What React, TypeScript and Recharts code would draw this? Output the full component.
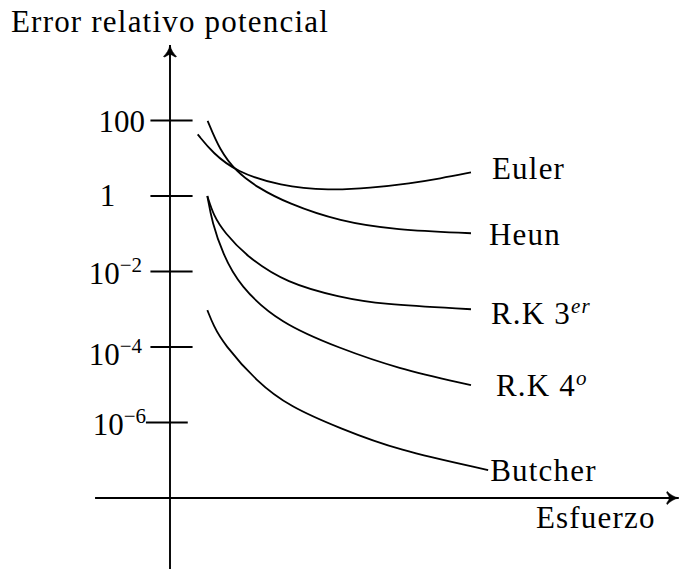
import React from 'react';
import { LineChart, Line, XAxis, YAxis, ReferenceLine, ReferenceDot } from 'recharts';

type Pt = { esfuerzo: number; error: number };

// Error curves for each method (effort in arbitrary units, error on a log scale)
const euler: Pt[] = [
  { esfuerzo: 0.92, error: 43 },
  { esfuerzo: 1.42, error: 13.8 },
  { esfuerzo: 2.2, error: 4.4 },
  { esfuerzo: 3.65, error: 1.84 },
  { esfuerzo: 5.3, error: 1.4 },
  { esfuerzo: 6.65, error: 1.63 },
  { esfuerzo: 8.0, error: 2.17 },
  { esfuerzo: 8.97, error: 2.9 },
  { esfuerzo: 10.0, error: 4.2 },
];

const heun: Pt[] = [
  { esfuerzo: 1.25, error: 98 },
  { esfuerzo: 1.65, error: 16.5 },
  { esfuerzo: 2.2, error: 4.4 },
  { esfuerzo: 2.9, error: 1.7 },
  { esfuerzo: 3.9, error: 0.64 },
  { esfuerzo: 5.65, error: 0.21 },
  { esfuerzo: 7.5, error: 0.126 },
  { esfuerzo: 10.0, error: 0.103 },
];

const rk3: Pt[] = [
  { esfuerzo: 1.24, error: 1 },
  { esfuerzo: 1.45, error: 0.3 },
  { esfuerzo: 1.8, error: 0.11 },
  { esfuerzo: 2.55, error: 0.0247 },
  { esfuerzo: 3.88, error: 0.00487 },
  { esfuerzo: 5.65, error: 0.00207 },
  { esfuerzo: 6.98, error: 0.00135 },
  { esfuerzo: 10.0, error: 0.001 },
];

const rk4: Pt[] = [
  { esfuerzo: 1.24, error: 1 },
  { esfuerzo: 1.4, error: 0.2 },
  { esfuerzo: 1.75, error: 0.03 },
  { esfuerzo: 2.3, error: 0.0042 },
  { esfuerzo: 3.65, error: 4.25e-4 },
  { esfuerzo: 5.65, error: 9.2e-5 },
  { esfuerzo: 7.53, error: 2.73e-5 },
  { esfuerzo: 10.0, error: 9.8e-6 },
];

const butcher: Pt[] = [
  { esfuerzo: 1.24, error: 9.5e-4 },
  { esfuerzo: 1.45, error: 3.6e-4 },
  { esfuerzo: 1.77, error: 1.25e-4 },
  { esfuerzo: 2.88, error: 1.2e-5 },
  { esfuerzo: 3.99, error: 2.6e-6 },
  { esfuerzo: 5.65, error: 7.0e-7 },
  { esfuerzo: 7.53, error: 1.87e-7 },
  { esfuerzo: 10.57, error: 5.5e-8 },
];

const seriesData = [euler, heun, rk3, rk4, butcher];
const seriesNames = ['Euler', 'Heun', 'R.K 3', 'R.K 4', 'Butcher'];
const seriesSuperscripts = ['', '', 'er', 'o', ''];

const yTickValues = [100, 1, 1e-2, 1e-4, 1e-6];
const yTickBases = ['100', '1', '10', '10', '10'];
const yTickExponents = ['', '', '−2', '−4', '−6'];

const yAxisTitle = 'Error relativo potencial';
const xAxisTitle = 'Esfuerzo';

// Axis geometry in data units
const X_DOMAIN: [number, number] = [-5.648, 16.944];
const Y_DOMAIN: [number, number] = [Math.pow(10, -9.881), Math.pow(10, 5.192)];
const X_AXIS_LEVEL = 1e-8;
const X_AXIS_START = -2.49;
const X_AXIS_END = 16.9;
const Y_AXIS_TOP = 1e4;

const W = 680;
const H = 569;

const font = "'Liberation Serif', 'DejaVu Serif', serif";
const textStyle: React.CSSProperties = { fontFamily: font, fontSize: 31, fill: '#000' };
const wordSpacing = 1.2;

// Per-label pixel offsets and tick extents
const seriesLabelOffsets = [
  { dx: 21, dy: 6.7 },
  { dx: 18, dy: 11.7 },
  { dx: 20, dy: 15 },
  { dx: 25, dy: 11 },
  { dx: 2, dy: 11 },
];
const tickLabelStyle = [
  { dx: -25, dy: 11.7, anchor: 'end' },
  { dx: -62.5, dy: 9.7, anchor: 'middle' },
  { dx: -28, dy: 12.3, anchor: 'end' },
  { dx: -28, dy: 18.3, anchor: 'end' },
  { dx: -24, dy: 12.3, anchor: 'end' },
];
const tickExtents = [
  [-0.65, 0.75],
  [-0.65, 0.75],
  [-0.65, 0.75],
  [-0.65, 0.75],
  [-0.8, 0.59],
];

const arrowUp = (x: number, y: number) =>
  `M ${x} ${y} C ${x - 1} ${y + 5} ${x - 3.5} ${y + 8.5} ${x - 6.5} ${y + 11.5} L ${x - 5.2} ${y + 12} ` +
  `Q ${x - 1.2} ${y + 9} ${x} ${y + 9.5} Q ${x + 1.2} ${y + 9} ${x + 5.2} ${y + 12} ` +
  `L ${x + 6.5} ${y + 11.5} C ${x + 3.5} ${y + 8.5} ${x + 1} ${y + 5} ${x} ${y} Z`;

export default function App() {
  return (
    <div style={{ position: 'absolute', left: 0, top: 0, width: W, height: H, background: '#fff' }}>
      <LineChart width={W} height={H} margin={{ top: 0, right: 0, bottom: 0, left: 0 }}>
        <XAxis dataKey="esfuerzo" type="number" domain={X_DOMAIN} allowDataOverflow hide />
        <YAxis type="number" scale="log" domain={Y_DOMAIN} allowDataOverflow hide />

        {/* axes */}
        <ReferenceLine
          segment={[
            { x: 0, y: Y_AXIS_TOP },
            { x: 0, y: Y_DOMAIN[0] },
          ]}
          stroke="#000"
          strokeWidth={1.9}
          ifOverflow="visible"
        />
        <ReferenceLine
          segment={[
            { x: X_AXIS_START, y: X_AXIS_LEVEL },
            { x: X_AXIS_END, y: X_AXIS_LEVEL },
          ]}
          stroke="#000"
          strokeWidth={1.9}
          ifOverflow="visible"
        />
        <ReferenceDot
          x={0}
          y={Y_AXIS_TOP}
          ifOverflow="visible"
          shape={(p: any) => <path d={arrowUp(p.cx, p.cy)} fill="#000" stroke="#000" strokeWidth={0.6} />}
        />
        <ReferenceDot
          x={X_AXIS_END}
          y={X_AXIS_LEVEL}
          ifOverflow="visible"
          shape={(p: any) => (
            <path
              d={arrowUp(p.cx, p.cy)}
              fill="#000"
              stroke="#000"
              strokeWidth={0.6}
              transform={`rotate(90 ${p.cx} ${p.cy})`}
            />
          )}
        />

        {/* y ticks */}
        {yTickValues.map((v, i) => (
          <ReferenceLine
            key={`tick-${i}`}
            segment={[
              { x: tickExtents[i][0], y: v },
              { x: tickExtents[i][1], y: v },
            ]}
            stroke="#000"
            strokeWidth={1.9}
            ifOverflow="visible"
          />
        ))}
        {yTickValues.map((v, i) => (
          <ReferenceDot
            key={`ticklabel-${i}`}
            x={0}
            y={v}
            ifOverflow="visible"
            shape={(p: any) => (
              <text
                x={p.cx + tickLabelStyle[i].dx}
                y={p.cy + tickLabelStyle[i].dy}
                textAnchor={tickLabelStyle[i].anchor as any}
                style={textStyle}
              >
                {yTickBases[i]}
                {yTickExponents[i] && (
                  <tspan dy={-12} style={{ fontSize: 21 }}>
                    {yTickExponents[i]}
                  </tspan>
                )}
              </text>
            )}
          />
        ))}

        {/* curves */}
        {seriesData.map((d, i) => (
          <Line
            key={seriesNames[i]}
            data={d}
            dataKey="error"
            name={seriesNames[i]}
            type="basis"
            stroke="#000"
            strokeWidth={1.8}
            dot={false}
            activeDot={false}
            isAnimationActive={false}
          />
        ))}

        {/* curve labels at the end of each curve */}
        {seriesData.map((d, i) => {
          const last = d[d.length - 1];
          return (
            <ReferenceDot
              key={`label-${i}`}
              x={last.esfuerzo}
              y={last.error}
              ifOverflow="visible"
              shape={(p: any) => (
                <text
                  x={p.cx + seriesLabelOffsets[i].dx}
                  y={p.cy + seriesLabelOffsets[i].dy}
                  style={{ ...textStyle, letterSpacing: wordSpacing }}
                >
                  {seriesNames[i]}
                  {seriesSuperscripts[i] && (
                    <tspan dy={-11} style={{ fontSize: 21, fontStyle: 'italic' }}>
                      {seriesSuperscripts[i]}
                    </tspan>
                  )}
                </text>
              )}
            />
          );
        })}

        {/* axis titles */}
        <ReferenceDot
          x={0}
          y={Y_AXIS_TOP}
          ifOverflow="visible"
          shape={(p: any) => (
            <text
              x={p.cx}
              y={p.cy - 12.7}
              textAnchor="middle"
              style={{ ...textStyle, letterSpacing: wordSpacing }}
            >
              {yAxisTitle}
            </text>
          )}
        />
        <ReferenceDot
          x={X_AXIS_END}
          y={X_AXIS_LEVEL}
          ifOverflow="visible"
          shape={(p: any) => (
            <text
              x={p.cx - 23}
              y={p.cy + 30.3}
              textAnchor="end"
              style={{ ...textStyle, letterSpacing: wordSpacing }}
            >
              {xAxisTitle}
            </text>
          )}
        />
      </LineChart>
    </div>
  );
}
